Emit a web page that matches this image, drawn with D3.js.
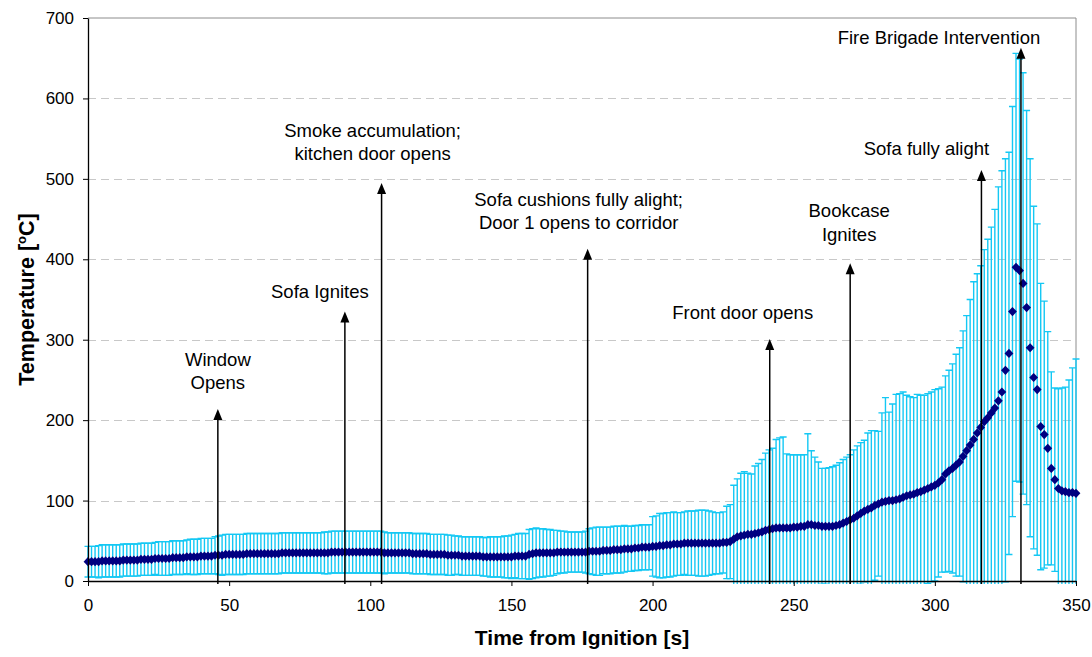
<!DOCTYPE html>
<html>
<head>
<meta charset="utf-8">
<script src="https://cdn.jsdelivr.net/npm/d3@7"></script>
<style>
  body { margin: 0; background: #fff; }
  svg { display: block; }
  text { font-family: "Liberation Sans", Arial, Helvetica, sans-serif; fill: #000; }
</style>
</head>
<body>
<svg id="chart" width="1092" height="657"></svg>
<script>
// Logged readings, one every sampleInterval seconds from ignition
const sampleInterval = 1.25;

// Mean temperature at each reading [°C]
const meanTemp = [
  24,24,24,24,25,25,25,25,
  25,25,26,26,26,26,26,27,
  27,27,27,28,28,28,28,28,
  29,29,29,29,30,30,30,30,
  31,31,31,31,32,32,32,33,
  33,33,33,33,33,34,34,34,
  34,34,34,34,34,34,34,35,
  35,35,35,35,35,35,35,35,
  35,35,35,35,35,36,36,36,
  36,36,36,36,36,36,36,36,
  36,36,36,36,35,35,35,35,
  35,35,35,35,34,34,34,34,
  34,33,33,33,33,33,32,32,
  32,32,31,31,31,31,31,31,
  30,30,30,30,30,30,30,30,
  30,31,31,31,31,33,34,35,
  35,35,35,35,35,36,36,36,
  36,36,36,36,36,36,37,37,
  37,37,38,38,38,39,39,39,
  40,40,40,41,41,42,42,42,
  43,43,44,44,45,45,46,46,
  46,47,47,47,47,47,47,47,
  47,47,47,47,48,48,49,52,
  55,56,57,58,58,59,60,61,
  63,64,65,66,66,66,66,66,
  67,67,68,68,70,70,69,69,
  68,68,68,68,69,70,72,74,
  76,78,81,84,87,89,91,94,
  96,98,99,100,100,101,102,104,
  106,107,108,110,111,113,115,117,
  119,122,126,133,137,140,144,148,
  155,162,169,176,184,191,198,203,
  209,215,224,235,262,283,335,390,
  386,370,340,290,253,238,192,182,
  165,140,126,115,112,111,110,110,
  109
];

// Standard deviation at each reading [°C] (error bars are ± this)
const stdDev = [
  19,19,19,20,20,20,20,20,
  20,20,20,20,20,20,20,20,
  20,20,20,20,21,21,21,21,
  21,21,21,21,21,22,22,22,
  22,22,22,22,23,24,25,25,
  25,25,25,25,25,25,25,25,
  25,25,25,25,25,25,25,25,
  25,25,25,25,25,25,25,25,
  25,25,25,26,26,26,26,26,
  26,26,26,26,26,26,26,26,
  26,26,26,26,26,25,25,25,
  25,25,25,25,25,25,25,25,
  25,25,25,25,25,25,25,25,
  24,24,24,24,24,24,24,24,
  24,24,25,25,25,25,26,26,
  27,27,28,28,28,31,31,31,
  30,30,29,29,28,27,26,26,
  25,25,25,25,25,26,28,29,
  30,30,29,29,29,29,29,29,
  29,28,28,28,28,28,28,28,
  37,38,40,40,40,40,40,39,
  39,39,40,40,40,41,41,41,
  40,39,38,38,38,45,46,67,
  72,78,79,76,75,84,86,90,
  96,99,100,110,112,113,92,91,
  90,90,89,89,113,92,85,79,
  72,72,73,74,75,77,79,80,
  81,85,87,88,88,95,96,93,
  90,111,129,110,120,131,131,131,
  125,122,120,122,120,118,118,118,
  119,117,115,122,125,130,138,142,
  156,168,181,196,198,201,214,222,
  231,247,266,275,263,250,255,266,
  263,262,245,235,213,206,178,166,
  145,120,114,124,128,130,140,155,
  167
];

const xTicks = [0, 50, 100, 150, 200, 250, 300, 350];
const yTicks = [0, 100, 200, 300, 400, 500, 600, 700];
const yGrid = [100, 200, 300, 400, 500, 600];

// Events during the fire: time [s], arrow tip [°C], label lines
const eventTimes = [46, 91, 104, 177, 241.5, 270, 316.5, 330.5];
const eventTips = [214, 335, 495, 413, 301, 395, 511, 663];
const eventLabels = [
  ["Window", "Opens"],
  ["Sofa Ignites"],
  ["Smoke accumulation;", "kitchen door opens"],
  ["Sofa cushions fully alight;", "Door 1 opens to corridor"],
  ["Front door opens"],
  ["Bookcase", "Ignites"],
  ["Sofa fully alight"],
  ["Fire Brigade Intervention"]
];
// Label placement relative to the arrow tip: [dx, first-baseline dy] in px
const labelOffsets = [[0, -43], [-25, -14], [-9, -46], [-9, -43], [-27, -20], [-1, -46], [-55, -15], [-82, -4]];

const readings = meanTemp.map((m, i) => ({ t: i * sampleInterval, m, s: stdDev[i] }));

const svg = d3.select("#chart");
const margin = { left: 88, right: 16, top: 18, bottom: 76 };
const W = 1092, H = 657;

const x = d3.scaleLinear().domain([0, 350]).range([margin.left, W - margin.right]);
const y = d3.scaleLinear().domain([0, 700]).range([H - margin.bottom, margin.top]);

// Plot frame (top and right edges)
svg.append("path")
  .attr("d", `M${x(0)},${y(700)}H${x(350)}V${y(0)}`)
  .attr("fill", "none").attr("stroke", "#8c8c8c").attr("stroke-width", 1);

// Dashed horizontal gridlines
svg.append("g").selectAll("line").data(yGrid).join("line")
  .attr("x1", x(0)).attr("x2", x(350))
  .attr("y1", d => Math.round(y(d)) + 0.5).attr("y2", d => Math.round(y(d)) + 0.5)
  .attr("stroke", "#c8c8c8").attr("stroke-width", 1).attr("stroke-dasharray", "8,5");

// Error bars clipped just below the time axis
svg.append("defs").append("clipPath").attr("id", "plotClip")
  .append("rect").attr("x", x(0) - 5).attr("y", y(700) - 2)
  .attr("width", x(350) - x(0) + 10).attr("height", y(0) - y(700) + 5);

const bars = svg.append("g").attr("clip-path", "url(#plotClip)")
  .attr("stroke", "#14c8f4").attr("stroke-width", 1.4).attr("fill", "none");
const capHalf = 3.5;
bars.selectAll("path").data(readings).join("path")
  .attr("d", d => {
    const cx = x(d.t), hi = y(d.m + d.s), lo = y(d.m - d.s);
    return `M${cx},${hi}V${lo}M${cx - capHalf},${hi}H${cx + capHalf}M${cx - capHalf},${lo}H${cx + capHalf}`;
  });

// Mean temperature diamonds
const dh = 4.6, dw = 4.4;
svg.append("g").attr("fill", "#000080").selectAll("path").data(readings).join("path")
  .attr("d", d => {
    const cx = x(d.t), cy = y(d.m);
    return `M${cx},${cy - dh}L${cx + dw},${cy}L${cx},${cy + dh}L${cx - dw},${cy}Z`;
  });

// Axes
const axisFont = "17px";
const yAxis = svg.append("g").attr("transform", `translate(${x(0)},0)`)
  .call(d3.axisLeft(y).tickValues(yTicks).tickSize(5).tickPadding(9).tickSizeOuter(0));
const xAxis = svg.append("g").attr("transform", `translate(0,${y(0)})`)
  .call(d3.axisBottom(x).tickValues(xTicks).tickSize(5).tickPadding(13).tickSizeOuter(0));
[yAxis, xAxis].forEach(g => {
  g.select(".domain").attr("stroke", "#000").attr("stroke-width", 1.3);
  g.selectAll(".tick line").attr("stroke", "#000");
  g.selectAll(".tick text").attr("font-size", axisFont)
    .attr("font-family", '"Liberation Sans", Arial, sans-serif').attr("fill", "#000");
});

// Axis titles
svg.append("text")
  .attr("x", (x(0) + x(350)) / 2).attr("y", 645)
  .attr("text-anchor", "middle").attr("font-size", "21px").attr("font-weight", "bold")
  .text("Time from Ignition [s]");

const yTitle = svg.append("text")
  .attr("transform", `translate(34,${(y(0) + y(700)) / 2}) rotate(-90)`)
  .attr("text-anchor", "middle").attr("font-size", "21.5px").attr("font-weight", "bold");
yTitle.append("tspan").text("Temperature [");
yTitle.append("tspan").attr("font-size", "13px").attr("dy", -8).text("o");
yTitle.append("tspan").attr("dy", 8).text("C]");

// Event arrows and labels
const events = eventTimes.map((t, i) => ({ t, tip: eventTips[i], lines: eventLabels[i], off: labelOffsets[i] }));
const ev = svg.append("g");
ev.selectAll("line").data(events).join("line")
  .attr("x1", d => x(d.t)).attr("x2", d => x(d.t))
  .attr("y1", y(0) + 3).attr("y2", d => y(d.tip) + 8)
  .attr("stroke", "#000").attr("stroke-width", 1.5);
ev.selectAll("path").data(events).join("path")
  .attr("d", d => {
    const cx = x(d.t), ty = y(d.tip);
    return `M${cx},${ty}L${cx + 4.5},${ty + 11}L${cx - 4.5},${ty + 11}Z`;
  })
  .attr("fill", "#000");
ev.selectAll("text").data(events).join("text")
  .attr("text-anchor", "middle").attr("font-size", "18.5px")
  .each(function (d) {
    const t = d3.select(this);
    d.lines.forEach((ln, k) => {
      t.append("tspan")
        .attr("x", x(d.t) + d.off[0])
        .attr("y", y(d.tip) + d.off[1] + k * 23.5)
        .text(ln);
    });
  });
</script>
</body>
</html>
